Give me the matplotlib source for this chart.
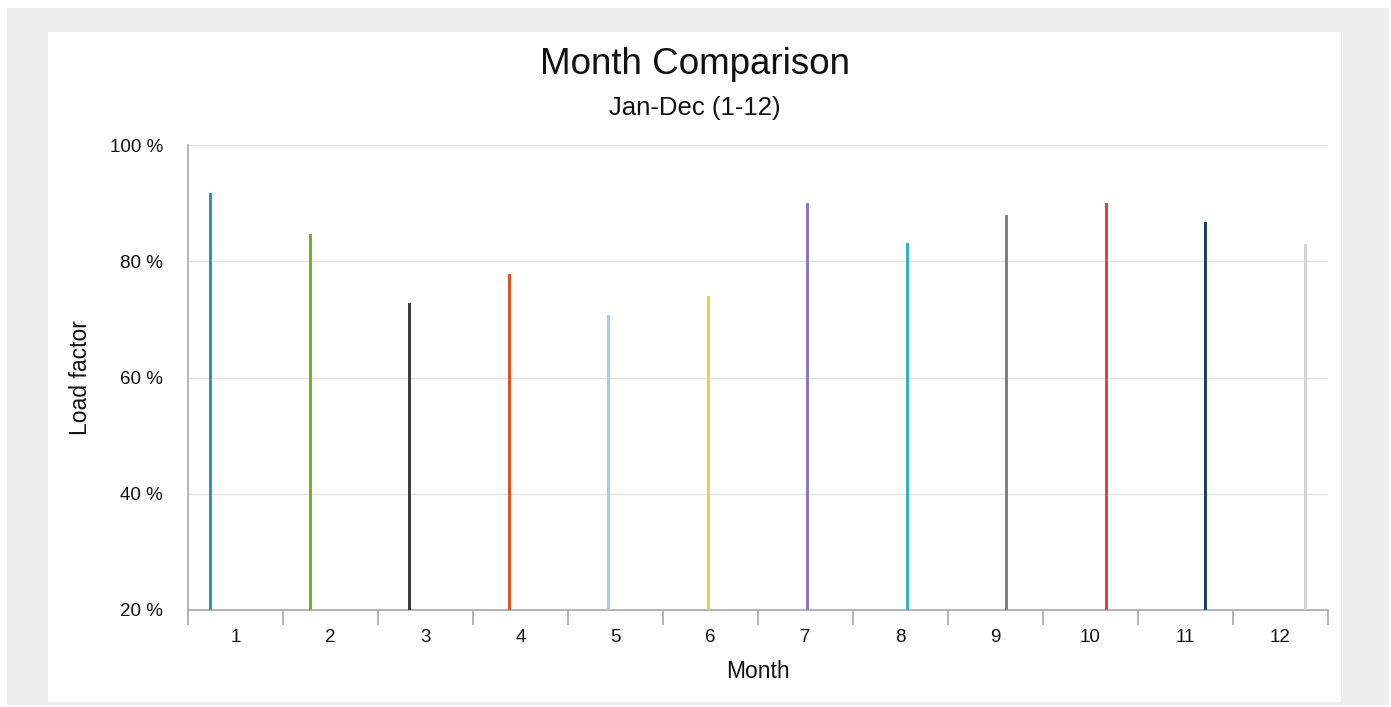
import matplotlib
matplotlib.use("Agg")
import matplotlib.pyplot as plt
from matplotlib.patches import Rectangle
import numpy as np

months = ["1", "2", "3", "4", "5", "6", "7", "8", "9", "10", "11", "12"]
load_factor = [91.7, 84.7, 72.8, 77.8, 70.7, 74.0, 90.0, 83.1, 88.0, 90.0, 86.8, 83.0]
colors = ["#3a8fb7", "#7aad3a", "#3d3d3d", "#e0521f", "#a3cbee", "#e2d34c",
          "#8a7bbf", "#38b3c2", "#808080", "#e8403b", "#1f3f66", "#d3d3d3"]
y_ticks = [20, 40, 60, 80, 100]
y_tick_labels = ["20 %", "40 %", "60 %", "80 %", "100 %"]

plt.rcParams['font.family'] = ['Liberation Sans', 'DejaVu Sans']

W, H = 1391, 707
fig = plt.figure(figsize=(W / 100, H / 100), dpi=100)
fig.patch.set_facecolor("white")

# outer gray frame and white panel
fig.patches.append(Rectangle((7 / W, 2 / H), (1389 - 7) / W, (705 - 8) / H,
                             transform=fig.transFigure, facecolor="#eeeeee",
                             edgecolor="none", zorder=-10))
fig.patches.append(Rectangle((48 / W, 5 / H), (1341 - 48) / W, (702 - 32) / H,
                             transform=fig.transFigure, facecolor="white",
                             edgecolor="none", zorder=-9))

left, right, top, bottom = 188, 1328, 145, 610
ax = fig.add_axes([left / W, 1 - bottom / H, (right - left) / W, (bottom - top) / H])
ax.set_facecolor("none")

n = len(months)
x = np.arange(1, n + 1)
slot = 0.0474
bw = 0.03
for i in range(n):
    ax.bar(x[i] + (i - (n - 1) / 2) * slot, load_factor[i] - 20, bottom=20,
           width=bw, color=colors[i], zorder=3)

ax.set_xlim(0.5, n + 0.5)
ax.set_ylim(20, 100)
ax.set_yticks(y_ticks)
ax.set_yticklabels(y_tick_labels)
ax.set_xticks(x)
ax.set_xticklabels(months)
ax.set_xticks(np.arange(0.5, n + 1), minor=True)

ax.grid(axis="y", color="#e3e3e3", linewidth=1, zorder=0)
for s in ["top", "right"]:
    ax.spines[s].set_visible(False)
for s in ["left", "bottom"]:
    ax.spines[s].set_color("#a8a8a8")
    ax.spines[s].set_linewidth(1.2)

ax.tick_params(axis="x", which="major", length=0, pad=14, labelsize=13.5, labelcolor="#111111")
ax.tick_params(axis="x", which="minor", length=11, width=1.2, color="#a8a8a8")
ax.tick_params(axis="y", which="both", length=0, pad=18, labelsize=13.5, labelcolor="#111111")

ax.set_xlabel("Month", fontsize=16.5, color="#111111")
ax.xaxis.set_label_coords(0.5, -0.108)
ax.set_ylabel("Load factor", fontsize=16.5, color="#111111")
ax.yaxis.set_label_coords(-0.084, 0.5)

fig.text(695 / W, 1 - 64 / H, "Month Comparison", ha="center", va="center",
         fontsize=26.5, color="#111111")
fig.text(695 / W, 1 - 108 / H, "Jan-Dec (1-12)", ha="center", va="center",
         fontsize=18.5, color="#111111")

fig.savefig("out.png", dpi=100)
